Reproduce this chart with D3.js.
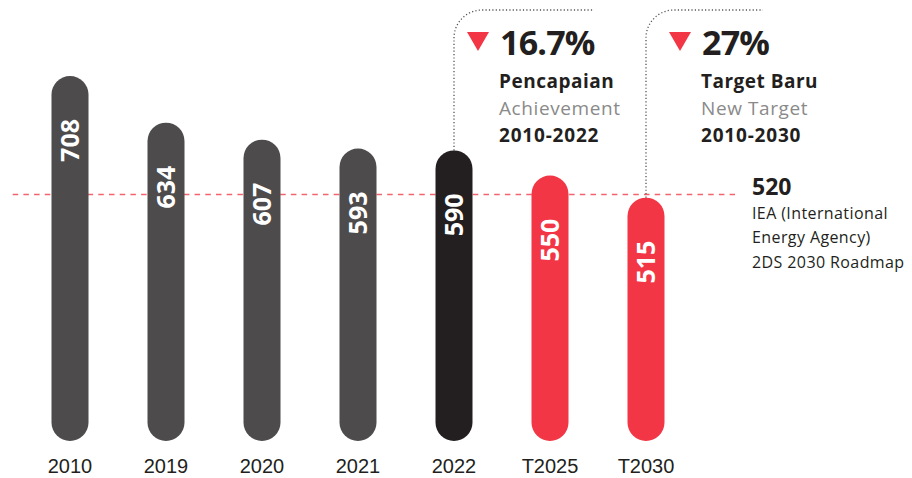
<!DOCTYPE html>
<html>
<head>
<meta charset="utf-8">
<script src="https://cdn.jsdelivr.net/npm/d3@7"></script>
<style>
  html, body { margin: 0; padding: 0; background: #ffffff; }
  svg { display: block; }
</style>
</head>
<body>
<div id="chart"></div>
<script>
// data
var categories = ["2010", "2019", "2020", "2021", "2022", "T2025", "T2030"];
var values = [708, 634, 607, 593, 590, 550, 515];
var barKinds = ["past", "past", "past", "past", "current", "target", "target"];

var refValue = 520;
var refLines = ["IEA (International", "Energy Agency)", "2DS 2030 Roadmap"];

var noteCategories = ["2022", "T2030"];
var notePercents = ["16.7%", "27%"];
var noteTitles = ["Pencapaian", "Target Baru"];
var noteSubtitles = ["Achievement", "New Target"];
var notePeriods = ["2010-2022", "2010-2030"];

var W = 912, H = 478;
var font = "'Open Sans', sans-serif";
var colors = { past: "#4d4b4c", current: "#231f20", target: "#f23645" };

var svg = d3.select("#chart").append("svg")
    .attr("width", W)
    .attr("height", H);

var x = d3.scalePoint()
    .domain(categories)
    .range([70, 646]);

var y = d3.scaleLinear()
    .domain([129, 708])
    .range([441, 76]);

var barW = 37;
var rows = categories.map(function(c, i) {
    return { cat: c, value: values[i], kind: barKinds[i] };
});

// reference dashed line (behind bars)
svg.append("line")
    .attr("x1", 12.7)
    .attr("x2", 735)
    .attr("y1", y(refValue))
    .attr("y2", y(refValue))
    .style("stroke", "#f2636e")
    .style("stroke-width", 1.3)
    .style("stroke-dasharray", "5.5,5.2");

// dotted connectors for the notes
var noteDx = [46, 56];
var noteRight = [140, 117];
noteCategories.forEach(function(c, i) {
    var cx = x(c);
    var top = y(values[categories.indexOf(c)]);
    var r = 28, yTop = 10;
    var p = d3.path();
    p.moveTo(cx, top);
    p.lineTo(cx, yTop + r);
    p.arcTo(cx, yTop, cx + r, yTop, r);
    p.lineTo(cx + noteRight[i], yTop);
    svg.append("path")
        .attr("d", p.toString())
        .style("fill", "none")
        .style("stroke", "#555")
        .style("stroke-width", 1.3)
        .style("stroke-dasharray", "1.2,2.2");
});

// bars (pills)
svg.append("g").selectAll("rect")
    .data(rows)
    .enter()
    .append("rect")
    .attr("x", function(d) { return x(d.cat) - barW / 2; })
    .attr("y", function(d) { return y(d.value); })
    .attr("width", barW)
    .attr("height", function(d) { return y(129) - y(d.value); })
    .attr("rx", barW / 2)
    .style("fill", function(d) { return colors[d.kind]; });

// value labels inside bars
svg.append("g").selectAll("text")
    .data(rows)
    .enter()
    .append("text")
    .attr("transform", function(d) {
        return "translate(" + x(d.cat) + "," + (y(d.value) + 43) + ") rotate(-90)";
    })
    .attr("dy", "0.36em")
    .attr("text-anchor", "end")
    .style("font-family", font)
    .style("font-weight", 700)
    .style("font-size", "25px")
    .style("fill", "#ffffff")
    .text(function(d) { return d.value; });

// category labels
svg.append("g").selectAll("text")
    .data(categories)
    .enter()
    .append("text")
    .attr("x", function(d) { return x(d); })
    .attr("y", 472.5)
    .attr("text-anchor", "middle")
    .style("font-family", "'Liberation Sans', Arial, sans-serif")
    .style("font-size", "20px")
    .style("fill", "#231f20")
    .text(function(d) { return d; });

// notes
noteCategories.forEach(function(c, i) {
    var tx = x(c) + noteDx[i];
    var g = svg.append("g");
    g.append("path")
        .attr("d", "M" + (tx - 33) + ",32 L" + (tx - 11) + ",32 L" + (tx - 22) + ",51 Z")
        .style("fill", "#f23645");
    g.append("text")
        .attr("x", tx).attr("y", 55)
        .style("font-family", font).style("font-weight", 700)
        .style("font-size", "34px").style("fill", "#231f20")
        .style("letter-spacing", "-0.8px")
        .text(notePercents[i]);
    g.append("text")
        .attr("x", tx - 1).attr("y", 88)
        .style("font-family", font).style("font-weight", 700)
        .style("font-size", "19px").style("fill", "#231f20")
        .style("letter-spacing", "0.5px")
        .text(noteTitles[i]);
    g.append("text")
        .attr("x", tx - 1).attr("y", 115)
        .style("font-family", font)
        .style("font-size", "19px").style("fill", "#8a8a8a")
        .style("letter-spacing", "0.6px")
        .text(noteSubtitles[i]);
    g.append("text")
        .attr("x", tx - 1).attr("y", 142)
        .style("font-family", font).style("font-weight", 700)
        .style("font-size", "19px").style("fill", "#231f20")
        .style("letter-spacing", "0.8px")
        .text(notePeriods[i]);
});

// reference label
var ref = svg.append("g");
ref.append("text")
    .attr("x", 752).attr("y", y(refValue))
    .style("font-family", font).style("font-weight", 700)
    .style("font-size", "23px").style("fill", "#231f20")
    .text(refValue);
ref.selectAll("text.line")
    .data(refLines)
    .enter()
    .append("text")
    .attr("class", "line")
    .attr("x", 752)
    .attr("y", function(d, i) { return y(refValue) + 24 + i * 24.5; })
    .style("font-family", font)
    .style("font-size", "16px")
    .style("fill", "#231f20")
    .style("letter-spacing", "0.4px")
    .text(function(d) { return d; });
</script>
</body>
</html>
